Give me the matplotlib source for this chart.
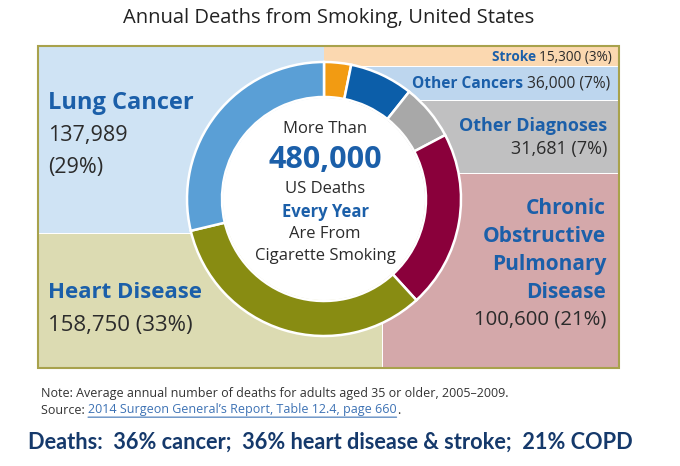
import matplotlib.pyplot as plt
from matplotlib.patches import Rectangle, Circle

# data
causes = ['Stroke', 'Other Cancers', 'Other Diagnoses',
          'Chronic Obstructive Pulmonary Disease', 'Heart Disease', 'Lung Cancer']
deaths = [15300, 36000, 31681, 100600, 158750, 137989]
pcts = [3, 7, 7, 21, 33, 29]
ring_colors = ['#f29b12', '#0c5ea9', '#a8a8a8', '#8a003b', '#888c12', '#5a9fd6']
bg_colors = ['#fbd8b0', '#bdd6ee', '#c0c0c1', '#d4a8aa', '#dcdbb2', '#cfe3f4']

BLUE = '#1b5fa9'
DARK = '#2b2b2b'
FONT = 'Open Sans'

fig = plt.figure(figsize=(6.8, 4.66), dpi=100)
ax = fig.add_axes([0, 0, 1, 1])

# background panels (x, y, w, h) in pixels
panels = {
    'Lung Cancer': (38, 46, 286, 187),
    'Heart Disease': (38, 234, 344, 134),
    'Stroke': (324, 46, 295, 20),
    'Other Cancers': (324, 67, 295, 33),
    'Other Diagnoses': (324, 101, 295, 72),
    'Chronic Obstructive Pulmonary Disease': (383, 174, 236, 194),
}
for c, col in zip(causes, bg_colors):
    x, y, w, h = panels[c]
    ax.add_patch(Rectangle((x, y), w, h, facecolor=col, edgecolor='none', zorder=1))
ax.add_patch(Rectangle((38, 46), 581, 322, facecolor='none', edgecolor='#a8a24c',
                       linewidth=1.5, zorder=2))

# donut
wedges, _ = ax.pie(deaths, colors=ring_colors, startangle=-90, counterclock=True,
                   center=(324, 199), radius=137,
                   wedgeprops=dict(width=35, edgecolor='white', linewidth=1.8))
for w in wedges:
    w.set_zorder(3)
ax.add_patch(Circle((324, 199), 101, facecolor='white', edgecolor='none', zorder=4))

# title
ax.text(329, 18, 'Annual Deaths from Smoking, United States', ha='center', va='center',
        fontsize=14.5, color='#222222', family=FONT)

# left labels
ax.text(48, 103, causes[5], ha='left', va='center', fontsize=17, fontweight='bold',
        color=BLUE, family=FONT)
ax.text(48, 135, f'{deaths[5]:,}', ha='left', va='center', fontsize=15.5, color=DARK, family=FONT)
ax.text(48, 167, f'({pcts[5]}%)', ha='left', va='center', fontsize=15.5, color=DARK, family=FONT)
ax.text(48, 293, causes[4], ha='left', va='center', fontsize=16, fontweight='bold',
        color=BLUE, family=FONT)
ax.text(48, 325, f'{deaths[4]:,} ({pcts[4]}%)', ha='left', va='center', fontsize=16,
        color=DARK, family=FONT)

# right labels
t = ax.annotate(f'{deaths[0]:,} ({pcts[0]}%)', xy=(612, 57), ha='right', va='center',
                fontsize=9.8, color=DARK, family=FONT)
ax.annotate(causes[0] + ' ', xy=(0, 0.5), xycoords=t, ha='right', va='center',
            fontsize=9.8, fontweight='bold', color=BLUE, family=FONT)
t = ax.annotate(f'{deaths[1]:,} ({pcts[1]}%)', xy=(610, 84), ha='right', va='center',
                fontsize=11.2, color=DARK, family=FONT)
ax.annotate(causes[1] + ' ', xy=(0, 0.5), xycoords=t, ha='right', va='center',
            fontsize=11.2, fontweight='bold', color=BLUE, family=FONT)
ax.text(607, 126, causes[2], ha='right', va='center', fontsize=13, fontweight='bold',
        color=BLUE, family=FONT)
ax.text(607, 149, f'{deaths[2]:,} ({pcts[2]}%)', ha='right', va='center', fontsize=13,
        color=DARK, family=FONT)
for i, word in enumerate(['Chronic', 'Obstructive', 'Pulmonary', 'Disease']):
    ax.text(606, 208 + i * 28.3, word, ha='right', va='center', fontsize=15,
            fontweight='bold', color=BLUE, family=FONT)
ax.text(606, 320, f'{deaths[3]:,} ({pcts[3]}%)', ha='right', va='center', fontsize=14.7,
        color=DARK, family=FONT)

# center text
center_lines = [('More Than', 129, 12, 'normal', DARK),
                ('480,000', 160, 22, 'bold', BLUE),
                ('US Deaths', 189, 12, 'normal', DARK),
                ('Every Year', 212, 12, 'bold', BLUE),
                ('Are From', 234, 12, 'normal', DARK),
                ('Cigarette Smoking', 256, 12, 'normal', DARK)]
for txt, y, fs, fw, col in center_lines:
    ax.text(325, y, txt, ha='center', va='center', fontsize=fs, fontweight=fw,
            color=col, family=FONT, zorder=5)

# notes
ax.text(41, 393, 'Note: Average annual number of deaths for adults aged 35 or older, 2005\u20132009.',
        ha='left', va='center', fontsize=9.0, color='#333333', family=FONT)
src = ax.annotate('Source: ', xy=(41, 410), ha='left', va='center', fontsize=9.0,
                  color='#333333', family=FONT)
link = ax.annotate('2014 Surgeon General\u2019s Report, Table 12.4, page 660', xy=(1, 0.5),
                   xycoords=src, ha='left', va='center', fontsize=9.0, color='#3d72b4',
                   family=FONT)
ax.annotate('.', xy=(1, 0.5), xycoords=link, ha='left', va='center', fontsize=9.0,
            color='#333333', family=FONT)
ax.annotate('', xy=(1, -0.05), xycoords=link, xytext=(0, -0.05), textcoords=link,
            arrowprops=dict(arrowstyle='-', color='#3d72b4', lw=0.8, shrinkA=0, shrinkB=0))

ax.text(28, 442, 'Deaths:  36% cancer;  36% heart disease & stroke;  21% COPD',
        ha='left', va='center', fontsize=15.7, fontweight='bold', color='#15396b', family='Lato')

ax.set_xlim(0, 680)
ax.set_ylim(466, 0)
ax.set_aspect('auto')
ax.axis('off')

fig.savefig('out.png', dpi=100, facecolor='white')
